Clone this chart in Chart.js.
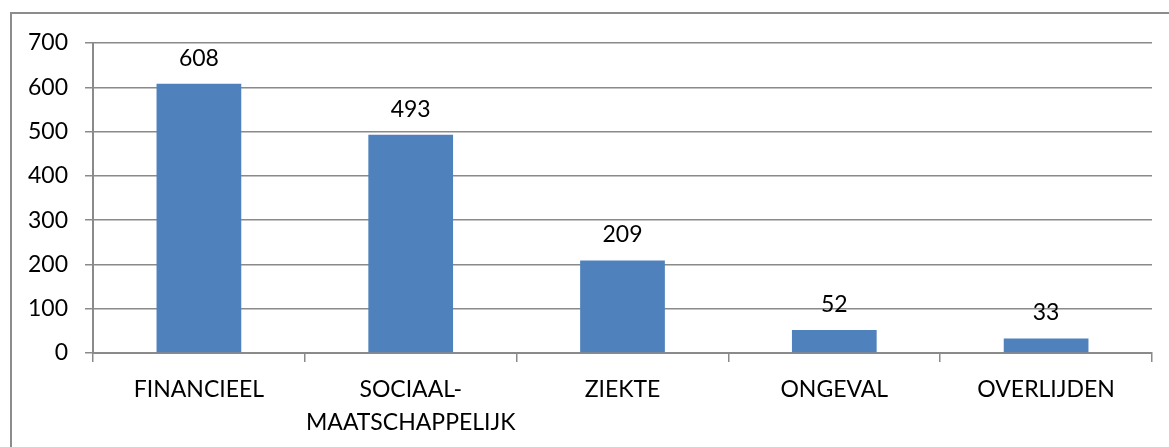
<!DOCTYPE html>
<html>
<head>
<meta charset="utf-8">
<script src="https://cdn.jsdelivr.net/npm/chart.js@4.4.0/dist/chart.umd.min.js"></script>
<style>
  html, body { margin: 0; padding: 0; background: #fff; overflow: hidden; }
  #wrap { position: relative; width: 1169px; height: 447px; }
  #frame { position: absolute; left: 10px; top: 12px; width: 1250px; height: 500px; border: 2px solid #8c8c8c; box-sizing: border-box; pointer-events: none; }
  canvas { position: absolute; left: 0; top: 0; }
</style>
</head>
<body>
<div id="wrap">
  <div id="frame"></div>
  <canvas id="c" width="1169" height="447"></canvas>
</div>
<script>
const categories = ["FINANCIEEL", ["SOCIAAL-", "MAATSCHAPPELIJK"], "ZIEKTE", "ONGEVAL", "OVERLIJDEN"];
const values = [608, 493, 209, 52, 33];
const yTicks = [0, 100, 200, 300, 400, 500, 600, 700];

const FONT = "Lato, 'Open Sans', sans-serif";
const FSIZE = 23;

const valueLabels = {
  id: 'valueLabels',
  afterDatasetsDraw(chart) {
    const ctx = chart.ctx;
    const meta = chart.getDatasetMeta(0);
    ctx.save();
    ctx.font = FSIZE + "px " + FONT;
    ctx.fillStyle = "#000";
    ctx.textAlign = "center";
    ctx.textBaseline = "alphabetic";
    meta.data.forEach((bar, i) => {
      ctx.fillText(String(chart.data.datasets[0].data[i]), bar.x, bar.y - 18);
    });
    ctx.restore();
  }
};

new Chart(document.getElementById('c'), {
  type: 'bar',
  data: {
    labels: categories,
    datasets: [{
      data: values,
      backgroundColor: '#4F81BD',
      borderWidth: 0,
      categoryPercentage: 1.0,
      barPercentage: 0.4
    }]
  },
  options: {
    responsive: false,
    animation: false,
    devicePixelRatio: 1,
    layout: { padding: { left: 0, top: 43, right: 17, bottom: 0 } },
    plugins: { legend: { display: false }, tooltip: { enabled: false } },
    scales: {
      x: {
        grid: { offset: true, drawOnChartArea: false, drawTicks: true, tickLength: 9, color: '#8a8a8a', lineWidth: 1.5 },
        border: { display: true, color: '#8a8a8a', width: 2 },
        ticks: { color: '#000', font: { family: FONT, size: FSIZE, lineHeight: 1.43 }, padding: 11, maxRotation: 0, autoSkip: false },
        afterFit(scale) { scale.height = 94; }
      },
      y: {
        min: 0, max: 700,
        afterBuildTicks(scale) { scale.ticks = yTicks.map(v => ({ value: v })); },
        grid: { color: '#8a8a8a', lineWidth: 1.5, drawTicks: true, tickLength: 8 },
        border: { display: true, color: '#8a8a8a', width: 2 },
        ticks: { color: '#000', font: { family: FONT, size: FSIZE }, padding: 17 },
        afterFit(scale) { scale.width = 93; }
      }
    }
  },
  plugins: [valueLabels]
});
</script>
</body>
</html>
